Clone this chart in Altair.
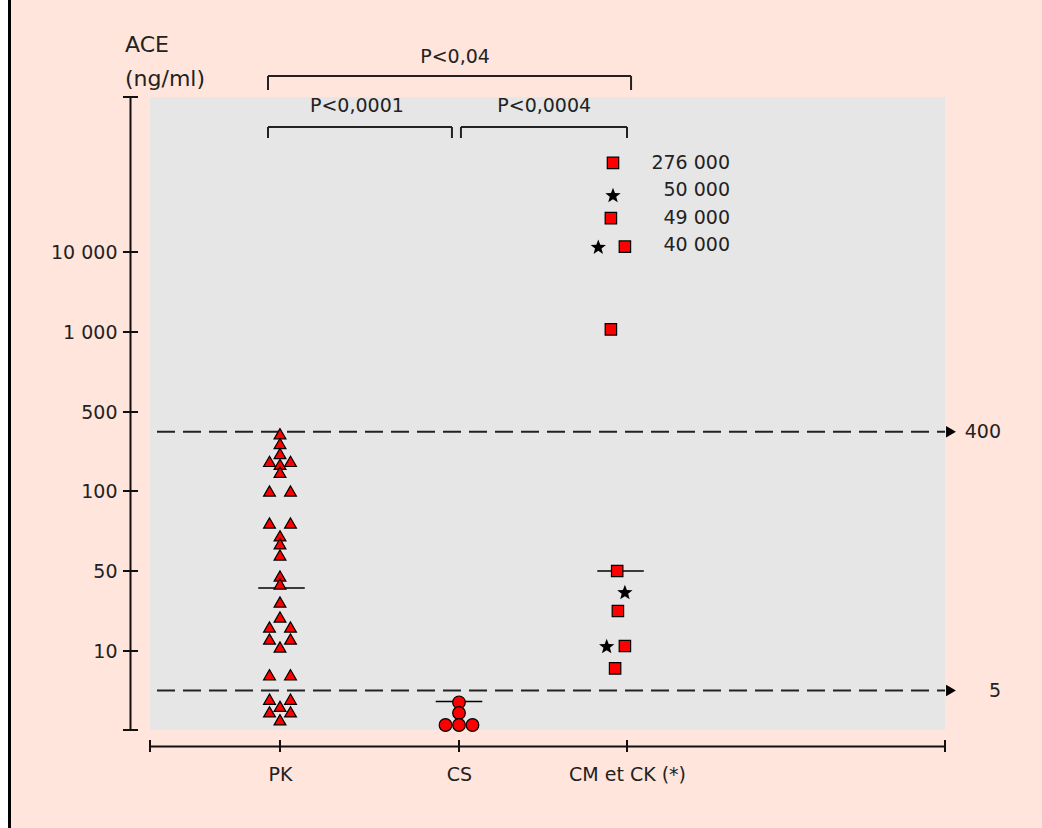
import math
import altair as alt
import pandas as pd

# ---------------- data ----------------
groups = ["PK", "CS", "CM et CK (*)"]

# PK (triangles): value, beeswarm column (-1 left, 0 centre, 1 right)
pk_values = [390, 340, 290, 250, 250, 235, 195, 100, 100, 80, 80, 72, 67, 60,
             47.5, 43.5, 34.5, 27, 22, 22, 16, 16, 12, 7.0, 7.0, 3.9, 3.9,
             3.0, 2.3, 2.3, 1.3]
pk_cols = [0, 0, 0, -1, 1, 0, 0, -1, 1, -1, 1, 0, 0, 0,
           0, 0, 0, 0, -1, 1, -1, 1, 0, -1, 1, -1, 1,
           0, -1, 1, 0]

# CS (circles)
cs_values = [3.5, 2.15, 0.63, 0.63, 0.63]
cs_cols = [0, 0, -1, 0, 1]

# CM et CK (squares = CM, stars = CK); values above 10 000 are drawn off-scale
cm_square_values = [20000, 13800, 10600, 1300, 50, 30, 12.5, 7.8]
cm_square_cols = [-2, -2.3, -0.3, -2.3, -1.4, -1.3, -0.3, -1.7]
ck_star_values = [16400, 10600, 39.5, 12.5]
ck_star_cols = [-2, -4.1, -0.3, -2.9]

# labels of the off-scale values
top_label_pos = [20000, 17000, 13800, 10800]
top_label_texts = ["276 000", "50 000", "49 000", "40 000"]

# medians
medians = [41.5, 3.6, 50]
median_shift = [0.01, 0.0, -0.043]

# reference (threshold) lines
ref_values = [400, 5]
ref_labels = ["400", "5"]

# y axis ticks
y_ticks = [0, 10, 50, 100, 500, 1000, 10000]
y_top = 27400

# significance brackets
bracket_from = [0.92, 0.92, 2.013]
bracket_to = [3.027, 1.953, 3.0]
bracket_text = ["P<0,04", "P<0,0001", "P<0,0004"]
bracket_level = ["top", "low", "low"]

# ---------------- styling ----------------
FONT = "DejaVu Sans"
TXT = "#222222"
RED = "#FF0000"
FS = 19
W, H = 795, 633

# five-pointed star as a custom symbol path in the [-1, 1] box
_star = []
for i in range(10):
    r = 1.0 if i % 2 == 0 else 0.42
    a = -math.pi / 2 + i * math.pi / 5
    _star.append(f"{r * math.cos(a):.3f},{r * math.sin(a) + 0.1:.3f}")
STAR = "M" + " L".join(_star) + " Z"

# jitter step (in group units) per group
STEP = {1: 0.07, 2: 0.09, 3: 0.0467}

# x: piecewise-linear scale, group index -> position (uniform slope near each group)
centers = [0, 130, 309, 477, 795]
half = 0.2
k = 150
xdom = [0]
xrng = [0]
for i in (1, 2, 3):
    xdom += [i - half, i, i + half]
    xrng += [centers[i] - half * k, centers[i], centers[i] + half * k]
xdom.append(4)
xrng.append(795)
xscale = alt.Scale(domain=xdom, range=xrng, zero=False, nice=False)

label_expr = " : ".join(
    f"datum.value == {i + 1} ? '{g}'" for i, g in enumerate(groups)
) + " : ''"
xaxis = alt.Axis(values=[1, 2, 3], labelExpr=label_expr, ticks=False, tickSize=0,
                 grid=False, domainColor="#111111", domainWidth=2, offset=16,
                 labelFont=FONT, labelFontSize=FS, labelColor=TXT,
                 labelPadding=19, title=None)

# y: piecewise-linear broken scale as in the original figure
ydom = [0, 10, 50, 100, 500, 1000, 10000, y_top]
yrng = [633, 554, 474, 394, 315, 235, 155, 0]
yscale = alt.Scale(domain=ydom, range=yrng, zero=False, nice=False)
yaxis = alt.Axis(values=y_ticks,
                 labelExpr="datum.value == 0 ? '' : replace(format(datum.value, ','), ',', ' ')",
                 ticks=False, tickSize=0, grid=False, domainColor="#111111",
                 domainWidth=2, offset=20, labelFont=FONT, labelFontSize=FS,
                 labelColor=TXT, labelPadding=13, title=None)


def X(field="gx"):
    return alt.X(f"{field}:Q", scale=xscale, axis=xaxis)


def Y(field="v"):
    return alt.Y(f"{field}:Q", scale=yscale, axis=yaxis)


def pts(values, cols, g):
    return pd.DataFrame({"v": values, "gx": [g + c * STEP[g] for c in cols]})


df_pk = pts(pk_values, pk_cols, 1)
df_cs = pts(cs_values, cs_cols, 2)
df_sq = pts(cm_square_values, cm_square_cols, 3)
df_st = pts(ck_star_values, ck_star_cols, 3)

MED_HALF = 0.155
df_med = pd.DataFrame({
    "v": medians,
    "gx": [i + 1 + s - MED_HALF for i, s in enumerate(median_shift)],
    "gx2": [i + 1 + s + MED_HALF for i, s in enumerate(median_shift)],
})
df_ref = pd.DataFrame({"v": ref_values, "label": ref_labels})
df_top = pd.DataFrame({"v": top_label_pos, "label": top_label_texts})
df_yt = pd.DataFrame({"v": y_ticks + [y_top]})
df_xt = pd.DataFrame({"gx": [0, 1, 2, 3, 4]})
df_br = pd.DataFrame({"gx": bracket_from, "gx2": bracket_to, "label": bracket_text,
                      "level": bracket_level})
df_br["mid"] = (df_br["gx"] + df_br["gx2"]) / 2
dummy = pd.DataFrame({"d": [0]})

layers = []

# page frame: white strip and black border line on the left
layers.append(alt.Chart(dummy).mark_rect(color="white").encode(
    x=alt.value(-150), x2=alt.value(-142), y=alt.value(-97), y2=alt.value(731)))
layers.append(alt.Chart(dummy).mark_rule(color="black", strokeWidth=3).encode(
    x=alt.value(-140.5), y=alt.value(-97), y2=alt.value(731)))

# title of the y axis
layers.append(alt.Chart(dummy).mark_text(
    align="left", baseline="alphabetic", font=FONT, fontSize=22, color=TXT,
    lineHeight=34).encode(
    x=alt.value(-25), y=alt.value(-45), text=alt.value(["ACE", "(ng/ml)"])))

# crossing tick marks of both axes
layers.append(alt.Chart(df_yt).mark_rule(color="#111111", strokeWidth=2).encode(
    y=Y(), x=alt.value(-27), x2=alt.value(-12)))
layers.append(alt.Chart(df_xt).mark_rule(color="#111111", strokeWidth=2).encode(
    x=X(), y=alt.value(643), y2=alt.value(655)))

# threshold lines with arrows and labels
layers.append(alt.Chart(df_ref).mark_rule(color="#222222", strokeWidth=2,
                                         strokeDash=[18, 8]).encode(
    y=Y(), x=alt.value(7), x2=alt.value(795)))
layers.append(alt.Chart(df_ref).mark_point(shape="triangle-right", filled=True,
                                          color="black", opacity=1, size=130).encode(
    y=Y(), x=alt.value(801)))
layers.append(alt.Chart(df_ref).mark_text(align="right", baseline="middle", font=FONT,
                                         fontSize=FS, color=TXT).encode(
    y=Y(), x=alt.value(851), text="label:N"))

# medians
layers.append(alt.Chart(df_med).mark_rule(color="black", strokeWidth=1.5).encode(
    x=X(), x2="gx2:Q", y=Y()))

# points
layers.append(alt.Chart(df_pk).mark_point(shape="triangle-up", filled=True, fill=RED,
                                         stroke="black", strokeWidth=1.2, opacity=1,
                                         size=140).encode(x=X(), y=Y()))
layers.append(alt.Chart(df_cs).mark_point(shape="circle", filled=True, fill=RED,
                                         stroke="black", strokeWidth=1.2, opacity=1,
                                         size=160).encode(x=X(), y=Y()))
layers.append(alt.Chart(df_sq).mark_point(shape="square", filled=True, fill=RED,
                                         stroke="black", strokeWidth=1.2, opacity=1,
                                         size=130).encode(x=X(), y=Y()))
layers.append(alt.Chart(df_st).mark_point(shape=STAR, filled=True, fill="black",
                                         opacity=1, size=260).encode(x=X(), y=Y()))

# labels of off-scale values
layers.append(alt.Chart(df_top).mark_text(align="right", baseline="middle", font=FONT,
                                         fontSize=FS, color=TXT).encode(
    y=Y(), x=alt.value(580), text="label:N"))

# significance brackets
for level, yline, yleg, ytext in (("top", -21, -7, -40), ("low", 30, 41, 9)):
    sub = df_br[df_br["level"] == level].reset_index(drop=True)
    ends = pd.DataFrame({"gx": list(sub["gx"]) + list(sub["gx2"])})
    layers.append(alt.Chart(sub).mark_rule(color="#222222", strokeWidth=2).encode(
        x=X(), x2="gx2:Q", y=alt.value(yline)))
    layers.append(alt.Chart(ends).mark_rule(color="#222222", strokeWidth=2).encode(
        x=X(), y=alt.value(yline), y2=alt.value(yleg)))
    layers.append(alt.Chart(sub).mark_text(align="center", baseline="middle", font=FONT,
                                          fontSize=FS, color=TXT).encode(
        x=X("mid"), y=alt.value(ytext), text="label:N"))

chart = alt.layer(*layers).properties(
    width=W, height=H, background="#FFE5DB",
    autosize=alt.AutoSizeParams(type="none"),
    padding={"left": 150, "top": 97, "right": 97, "bottom": 98},
).configure_view(strokeWidth=0, fill="#E6E6E6")

chart.save("out.html", embed_options={"renderer": "svg", "actions": False})
